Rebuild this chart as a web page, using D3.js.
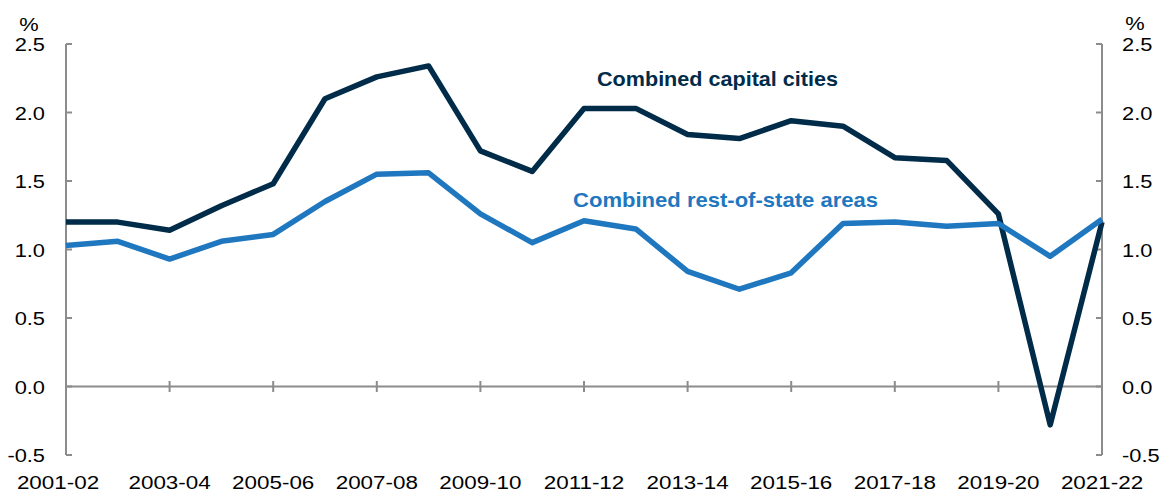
<!DOCTYPE html>
<html>
<head>
<meta charset="utf-8">
<script src="https://cdn.jsdelivr.net/npm/d3@7"></script>
<style>
  html, body { margin: 0; padding: 0; background: #fff; }
  svg { display: block; }
  text { font-family: "Liberation Sans", Arial, sans-serif; }
</style>
</head>
<body>
<svg id="chart" width="1159" height="492"></svg>
<script>
const categories = ["2001-02","2002-03","2003-04","2004-05","2005-06","2006-07","2007-08","2008-09","2009-10","2010-11","2011-12","2012-13","2013-14","2014-15","2015-16","2016-17","2017-18","2018-19","2019-20","2020-21","2021-22"];
const capitalCities = [1.20,1.20,1.14,1.32,1.48,2.10,2.26,2.34,1.72,1.57,2.03,2.03,1.84,1.81,1.94,1.90,1.67,1.65,1.26,-0.28,1.20];
const restOfState = [1.03,1.06,0.93,1.06,1.11,1.35,1.55,1.56,1.26,1.05,1.21,1.15,0.84,0.71,0.83,1.19,1.20,1.17,1.19,0.95,1.22];
const yTicks = [-0.5,0.0,0.5,1.0,1.5,2.0,2.5];
const xTickLabels = ["2001-02","2003-04","2005-06","2007-08","2009-10","2011-12","2013-14","2015-16","2017-18","2019-20","2021-22"];
const seriesNames = ["Combined capital cities","Combined rest-of-state areas"];

(function () {
const svg = d3.select("#chart");
const mLeft = 66, mRight = 1102, mTop = 44, mBottom = 455;
const x = d3.scalePoint().domain(categories).range([mLeft, mRight]);
const y = d3.scaleLinear().domain([-0.5, 2.5]).range([mBottom, mTop]);

const axisColor = "#8c8c8c";
const navy = "#002b49";
const blue = "#1f77bf";
const sx = 1.18;

function label(g, txt, tx, ty, anchor, size, fill, weight) {
  g.append("text")
    .attr("transform", `translate(${tx},${ty}) scale(${sx},1)`)
    .attr("text-anchor", anchor)
    .attr("font-size", size)
    .attr("font-weight", weight || "normal")
    .attr("fill", fill || "#000")
    .text(txt);
}

const ax = svg.append("g");
ax.append("line").attr("x1", mLeft).attr("x2", mLeft).attr("y1", y(2.5)).attr("y2", y(-0.5))
  .attr("stroke", axisColor).attr("stroke-width", 2);
ax.append("line").attr("x1", mRight).attr("x2", mRight).attr("y1", y(2.5)).attr("y2", y(-0.5))
  .attr("stroke", axisColor).attr("stroke-width", 2);
ax.append("line").attr("x1", mLeft).attr("x2", mRight).attr("y1", y(0)).attr("y2", y(0))
  .attr("stroke", axisColor).attr("stroke-width", 2);

yTicks.forEach(v => {
  ax.append("line").attr("x1", mLeft).attr("x2", mLeft + 6).attr("y1", y(v)).attr("y2", y(v))
    .attr("stroke", axisColor).attr("stroke-width", 2);
  ax.append("line").attr("x1", mRight - 6).attr("x2", mRight).attr("y1", y(v)).attr("y2", y(v))
    .attr("stroke", axisColor).attr("stroke-width", 2);
  label(ax, v.toFixed(1), 45, y(v) + 7, "end", 18.5);
  label(ax, v.toFixed(1), 1122, y(v) + 7, "start", 18.5);
});
label(ax, "%", 29, 31, "middle", 18.5);
label(ax, "%", 1135, 30, "middle", 18.5);

xTickLabels.forEach(c => {
  const px = x(c);
  if (c !== categories[0] && c !== categories[categories.length - 1]) {
    ax.append("line").attr("x1", px).attr("x2", px).attr("y1", y(0) - 5.5).attr("y2", y(0) + 5.5)
      .attr("stroke", axisColor).attr("stroke-width", 2);
  }
  label(ax, c, c === categories[0] ? 58 : px, 489, "middle", 19);
});

const line = d3.line().x((d, i) => x(categories[i])).y(d => y(d));
svg.append("path").datum(capitalCities).attr("d", line)
  .attr("fill", "none").attr("stroke", navy).attr("stroke-width", 5.5).attr("stroke-linejoin", "round");
svg.append("path").datum(restOfState).attr("d", line)
  .attr("fill", "none").attr("stroke", blue).attr("stroke-width", 5.5).attr("stroke-linejoin", "round");

svg.append("text").attr("x", 597).attr("y", 86).attr("font-size", 21).attr("font-weight", "bold")
  .attr("fill", navy).attr("textLength", 241).attr("lengthAdjust", "spacingAndGlyphs").text(seriesNames[0]);
svg.append("text").attr("x", 573).attr("y", 207).attr("font-size", 21).attr("font-weight", "bold")
  .attr("fill", blue).attr("textLength", 305).attr("lengthAdjust", "spacingAndGlyphs").text(seriesNames[1]);
})();
</script>
</body>
</html>
